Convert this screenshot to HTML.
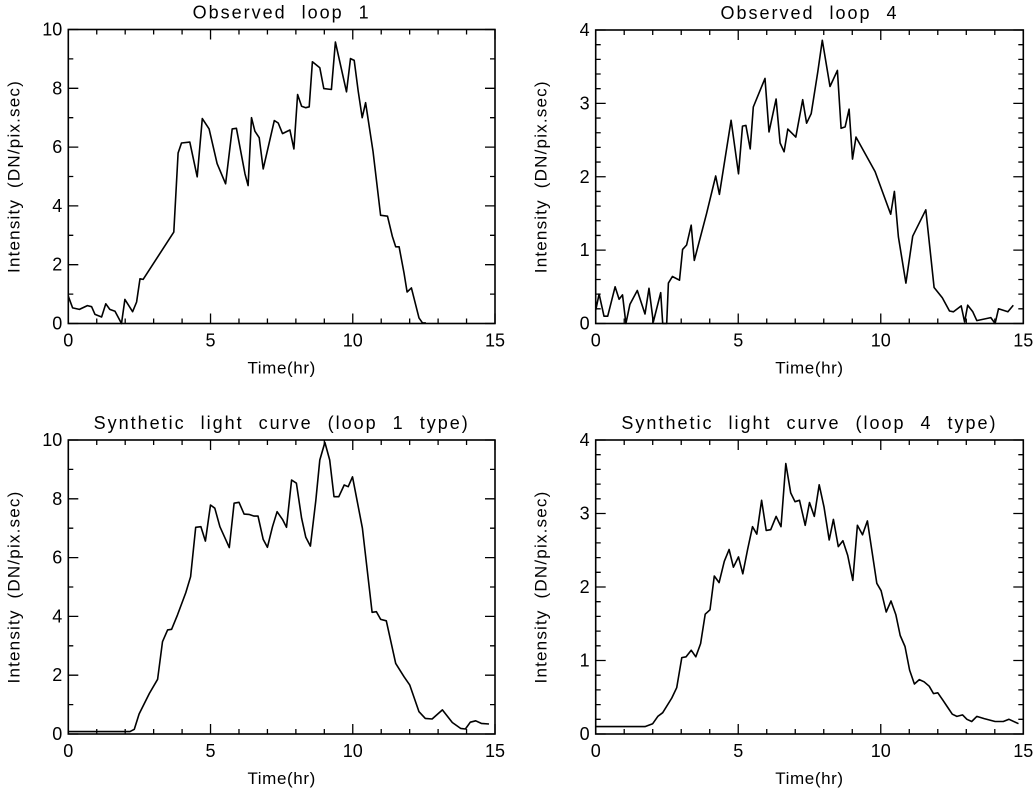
<!DOCTYPE html>
<html><head><meta charset="utf-8"><style>
html,body{margin:0;padding:0;background:#fff;}
svg{display:block;font-family:"Liberation Sans",sans-serif;}
</style></head><body>
<svg id="fig" width="1036" height="794" viewBox="0 0 1036 794"></svg>
<script>
// Panel 1: Observed loop 1
const t1 = [0,0.15,0.39,0.67,0.82,0.94,1.17,1.32,1.46,1.64,1.87,1.99,2.26,2.40,2.52,2.63,3.71,3.86,3.98,4.27,4.53,4.71,4.95,5.23,5.53,5.76,5.91,6.21,6.32,6.44,6.56,6.71,6.85,7.24,7.38,7.53,7.79,7.93,8.06,8.20,8.35,8.47,8.58,8.84,8.98,9.25,9.39,9.78,9.92,10.05,10.19,10.33,10.45,10.71,10.98,11.22,11.39,11.51,11.63,11.80,11.91,12.06,12.33,12.45,12.57];
const v1 = [0.93,0.53,0.48,0.61,0.57,0.31,0.22,0.67,0.48,0.42,0,0.82,0.40,0.73,1.52,1.50,3.11,5.80,6.14,6.17,4.99,6.97,6.62,5.44,4.75,6.62,6.64,5.09,4.69,7.0,6.54,6.32,5.26,6.90,6.82,6.46,6.58,5.94,7.79,7.39,7.34,7.37,8.90,8.70,7.99,7.96,9.57,7.88,9.01,8.95,7.90,7.0,7.51,5.86,3.68,3.65,2.97,2.61,2.61,1.72,1.07,1.21,0.19,0.02,0.02];
// Panel 2: Observed loop 4
const t2 = [0,0.12,0.29,0.42,0.68,0.82,0.94,1.06,1.20,1.46,1.73,1.87,2.02,2.28,2.35,2.49,2.55,2.69,2.94,3.05,3.19,3.35,3.46,3.89,4.21,4.34,4.75,5.01,5.15,5.27,5.42,5.53,5.94,6.08,6.33,6.47,6.61,6.74,7.02,7.26,7.40,7.56,7.79,7.95,8.22,8.48,8.61,8.75,8.89,9.01,9.13,9.80,10.35,10.48,10.62,10.88,11.12,11.58,11.87,12.16,12.41,12.55,12.82,12.94,13.05,13.23,13.37,13.86,14.01,14.13,14.46,14.65];
const v2 = [0.18,0.40,0.10,0.10,0.50,0.33,0.39,0,0.26,0.45,0.13,0.48,0.02,0.42,0,0,0.55,0.64,0.59,1.01,1.07,1.34,0.86,1.50,2.01,1.76,2.77,2.04,2.69,2.70,2.38,2.95,3.34,2.61,3.06,2.46,2.34,2.65,2.54,3.05,2.73,2.86,3.43,3.86,3.23,3.45,2.66,2.68,2.92,2.24,2.54,2.07,1.49,1.80,1.18,0.55,1.19,1.55,0.49,0.35,0.17,0.16,0.24,0.02,0.25,0.16,0.04,0.08,0,0.20,0.16,0.25];
// Panel 3: Synthetic loop 1 type
const t3 = [0,2.17,2.32,2.49,2.85,3.14,3.31,3.49,3.63,3.84,4.13,4.30,4.48,4.66,4.82,5.0,5.15,5.33,5.66,5.83,6.0,6.18,6.35,6.53,6.67,6.85,7.0,7.18,7.34,7.53,7.67,7.85,8.02,8.20,8.35,8.51,8.70,8.84,9.02,9.19,9.34,9.51,9.70,9.84,9.99,10.16,10.34,10.68,10.83,10.98,11.18,11.51,11.80,12.0,12.33,12.55,12.79,13.15,13.50,13.79,13.96,14.13,14.32,14.52,14.79];
const v3 = [0.08,0.08,0.16,0.68,1.38,1.86,3.14,3.54,3.56,4.05,4.81,5.35,7.03,7.05,6.56,7.79,7.68,7.05,6.34,7.85,7.88,7.48,7.47,7.41,7.41,6.62,6.35,7.05,7.56,7.30,7.03,8.64,8.53,7.34,6.69,6.39,7.94,9.32,9.92,9.32,8.07,8.07,8.47,8.41,8.75,7.90,7.0,4.14,4.16,3.90,3.85,2.40,1.95,1.67,0.76,0.53,0.51,0.82,0.39,0.19,0.17,0.40,0.45,0.36,0.34];
// Panel 4: Synthetic loop 4 type
const t4 = [0,1.73,2.0,2.18,2.35,2.67,2.84,3.02,3.17,3.35,3.51,3.68,3.84,4.01,4.16,4.33,4.51,4.68,4.83,5.01,5.16,5.33,5.50,5.65,5.82,5.98,6.14,6.33,6.50,6.67,6.84,6.99,7.15,7.35,7.50,7.67,7.84,8.01,8.19,8.34,8.51,8.67,8.84,9.02,9.18,9.36,9.53,9.68,9.86,10.01,10.19,10.36,10.53,10.68,10.85,11.01,11.18,11.35,11.52,11.70,11.85,12.0,12.18,12.35,12.51,12.67,12.87,13.02,13.19,13.37,13.63,14.01,14.30,14.50,14.83];
const v4 = [0.10,0.10,0.14,0.24,0.29,0.49,0.63,1.04,1.05,1.14,1.05,1.23,1.63,1.69,2.15,2.06,2.35,2.51,2.27,2.41,2.18,2.51,2.82,2.72,3.18,2.77,2.78,2.96,2.82,3.68,3.28,3.16,3.18,2.84,3.15,2.96,3.39,3.09,2.64,2.92,2.55,2.63,2.43,2.09,2.84,2.71,2.90,2.52,2.05,1.95,1.66,1.81,1.62,1.34,1.19,0.87,0.68,0.74,0.71,0.65,0.55,0.56,0.46,0.36,0.27,0.24,0.26,0.20,0.17,0.24,0.21,0.17,0.17,0.20,0.14];
const xTicks = [0,5,10,15];
const yTicks1 = [0,2,4,6,8,10];
const yTicks2 = [0,1,2,3,4];

const NS = "http://www.w3.org/2000/svg";
const svg = document.getElementById('fig');
function mk(tag, attrs, parent){
  const e = document.createElementNS(NS, tag);
  for (const k in attrs) e.setAttribute(k, attrs[k]);
  (parent||svg).appendChild(e);
  return e;
}
const panels = [
  {name:'observed-loop-1', title:'Observed loop 1', x0:68.3, x1:495, y0:29.5, y1:323.5, ymax:10, yt:yTicks1, ymin:1, t:t1, v:v1},
  {name:'observed-loop-4', title:'Observed loop 4', x0:595.7, x1:1023.3, y0:30, y1:323.5, ymax:4, yt:yTicks2, ymin:0.2, t:t2, v:v2},
  {name:'synthetic-loop-1', title:'Synthetic light curve (loop 1 type)', x0:68.3, x1:495, y0:440, y1:734, ymax:10, yt:yTicks1, ymin:1, t:t3, v:v3},
  {name:'synthetic-loop-4', title:'Synthetic light curve (loop 4 type)', x0:595.7, x1:1023.3, y0:440, y1:734, ymax:4, yt:yTicks2, ymin:0.2, t:t4, v:v4}
];
panels.forEach(p=>{
  const g = mk('g', {});
  
  
  const X = t => p.x0 + (p.x1-p.x0)*t/15;
  const Y = v => p.y1 - (p.y1-p.y0)*v/p.ymax;
  const ti = mk('text', {x:(p.x0+p.x1)/2, y:p.y0-11, 'text-anchor':'middle', 'font-size':18, 'letter-spacing':2, 'word-spacing':8, fill:'#000'}, g);
  ti.textContent = p.title;
  
  
  const fr = mk('rect', {x:p.x0, y:p.y0, width:p.x1-p.x0, height:p.y1-p.y0, fill:'none', stroke:'#000', 'stroke-width':1.6}, g);
  
  
  let d = '';
  for (let i=0;i<=15;i++){
    const L = (i%5===0)?10:5, x = X(i);
    d += `M${x} ${p.y1}v${-L}M${x} ${p.y0}v${L}`;
  }
  const nm = Math.round(p.ymax/p.ymin);
  for (let i=0;i<=nm;i++){
    const v = i*p.ymin, major = p.yt.some(tk=>Math.abs(tk-v)<1e-6);
    const L = major?10:5, y = Y(v);
    d += `M${p.x0} ${y}h${L}M${p.x1} ${y}h${-L}`;
  }
  const tk = mk('path', {d:d, stroke:'#000', 'stroke-width':1.3, fill:'none'}, g);
  
  
  xTicks.forEach(t=>{
    const e = mk('text', {x:X(t), y:p.y1+23, 'text-anchor':'middle', 'font-size':18, fill:'#000'}, g);
    e.textContent = t;
    
    
  });
  p.yt.forEach(v=>{
    const e = mk('text', {x:p.x0-6, y:Y(v)+6, 'text-anchor':'end', 'font-size':18, fill:'#000'}, g);
    e.textContent = v;
    
    
  });
  const xl = mk('text', {x:(p.x0+p.x1)/2, y:p.y1+50, 'text-anchor':'middle', 'font-size':17, 'letter-spacing':0.6, fill:'#000'}, g);
  xl.textContent = 'Time(hr)';
  
  
  const cy = (p.y0+p.y1)/2, lx = p.x0-49;
  const yl = mk('text', {x:lx, y:cy, 'text-anchor':'middle', 'font-size':17, 'letter-spacing':1.2, 'word-spacing':5, fill:'#000', transform:`rotate(-90 ${lx} ${cy})`}, g);
  yl.textContent = 'Intensity  (DN/pix.sec)';
  
  
  const pts = p.t.map((t,i)=>`${X(t).toFixed(1)},${Y(p.v[i]).toFixed(1)}`).join(' ');
  const ln = mk('polyline', {points:pts, fill:'none', stroke:'#000', 'stroke-width':1.6, 'stroke-linejoin':'round'}, g);
  
  
});
</script>
</body></html>
